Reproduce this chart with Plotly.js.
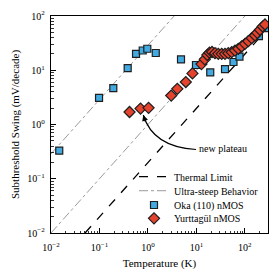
<!DOCTYPE html>
<html>
<head>
<meta charset="utf-8">
<script src="https://cdn.plot.ly/plotly-3.0.1.min.js"></script>
<style>html,body{margin:0;padding:0;background:#fff;}</style>
</head>
<body>
<div id="chart" style="width:278px;height:278px;"></div>
<script>
// Theoretical lines (endpoints)
var thermalT = [0.0504, 300];
var thermalS = [0.01, 59.5];
var steepT = [0.01, 3.47, null, 0.01, 100];
var steepS = [0.288, 100, null, 0.01, 100];

// Oka (110) nMOS
var okaT = [0.0148, 0.098, 0.193, 0.382, 0.568, 0.78, 0.97, 1.45, 4.81, 9.8, 19.3, 38.9, 58.2, 77.4, 195, 265];
var okaS = [0.33, 3.1, 4.67, 10.9, 20.1, 23.1, 24.9, 20.8, 15.8, 12.5, 9.1, 10.5, 14.2, 17.9, 42.4, 60];

// Yurttagül nMOS
var yurT = [0.417, 0.703, 1.03, 3.02, 4.04, 6.04, 8.30, 12.7, 14.9, 16.8, 18.6, 21.0, 24.2, 28.3, 33.3, 38.9, 45.5, 53.5, 62.5, 73.1, 85.9, 100.6, 117.7, 138.3, 161.8, 180.4, 205, 233, 260];
var yurS = [1.70, 1.97, 2.03, 3.42, 4.55, 6.07, 8.75, 13.0, 15.9, 19.1, 21.1, 21.7, 20.6, 20.1, 20.1, 20.1, 20.6, 21.5, 23.1, 24.9, 27.4, 30.7, 34.3, 39.0, 43.7, 49.0, 55.7, 64.0, 69.7];

var xTickVals = [0.01, 0.1, 1, 10, 100];
var xTickText = ['10<sup>−2</sup>', '10<sup>−1</sup>', '10<sup>0</sup>', '10<sup>1</sup>', '10<sup>2</sup>'];
var yTickVals = [0.01, 0.1, 1, 10, 100];
var yTickText = ['10<sup>−2</sup>', '10<sup>−1</sup>', '10<sup>0</sup>', '10<sup>1</sup>', '10<sup>2</sup>'];

var FONT = 'Liberation Serif, Times New Roman, serif';

var traces = [
  {x: thermalT, y: thermalS, mode: 'lines', name: 'Thermal Limit', legend: 'legend',
   line: {color: '#000', width: 1.3, dash: 'dash'}},
  {x: steepT, y: steepS, mode: 'lines', name: 'Ultra-steep Behavior', legend: 'legend2', connectgaps: false,
   line: {color: '#9a9a9a', width: 1, dash: 'dashdot'}},
  {x: okaT, y: okaS, mode: 'markers', name: 'Oka (110) nMOS', legend: 'legend3',
   marker: {symbol: 'square', size: 7, color: '#42aae0', line: {color: '#1e1e1e', width: 1.2}}},
  {x: yurT, y: yurS, mode: 'markers', name: 'Yurttagül nMOS', legend: 'legend4',
   marker: {symbol: 'diamond', size: 8.5, color: '#e5432e', line: {color: '#1e1e1e', width: 1.2}}}
];

function leg(y) {
  return {x: 0.3825, xanchor: 'left', y: y, yanchor: 'middle', bgcolor: 'rgba(0,0,0,0)',
          borderwidth: 0, font: {family: FONT, size: 10, color: '#000'}};
}

var axisCommon = {
  type: 'log', showgrid: false, zeroline: false,
  showline: true, linecolor: '#000', linewidth: 1.3, mirror: true,
  ticks: 'inside', ticklen: 5, tickwidth: 1, tickcolor: '#000',
  tickmode: 'array', tickfont: {family: FONT, size: 10, color: '#000'},
  minor: {ticks: 'inside', ticklen: 2.5, tickwidth: 0.8, tickcolor: '#000', dtick: 'D1', showgrid: false}
};

var layout = {
  width: 278, height: 278,
  margin: {l: 51, r: 10, t: 16, b: 45},
  paper_bgcolor: '#fff', plot_bgcolor: '#fff',
  font: {family: FONT, color: '#000'},
  showlegend: true,
  legend: leg(0.2594), legend2: leg(0.1949), legend3: leg(0.129), legend4: leg(0.0677),
  xaxis: Object.assign({}, axisCommon, {
    range: [-2, Math.log10(300)], tickvals: xTickVals, ticktext: xTickText, ticklabelstandoff: 5,
    title: {text: 'Temperature (K)', font: {family: FONT, size: 11, color: '#000'}, standoff: 7}
  }),
  yaxis: Object.assign({}, axisCommon, {
    range: [-2, 2], tickvals: yTickVals, ticktext: yTickText, ticklabelstandoff: 3,
    title: {text: 'Subthreshold Swing (mV/decade)', font: {family: FONT, size: 11, color: '#000'}, standoff: 5}
  }),
  shapes: [
    {type: 'path', xref: 'paper', yref: 'paper',
     path: 'M 0.4253 0.5438 Q 0.470 0.3963 0.6682 0.3848',
     line: {color: '#000', width: 1.2}}
  ],
  annotations: [
    {xref: 'paper', yref: 'paper', x: 0.6728, y: 0.3871, xanchor: 'left', yanchor: 'middle',
     text: 'new plateau', showarrow: false, font: {family: FONT, size: 10, color: '#000'}},
    {xref: 'paper', yref: 'paper', x: 0.4253, y: 0.5438, text: '', showarrow: true,
     ax: 2.5, ay: 8, arrowhead: 2, arrowsize: 1, arrowwidth: 1.2, arrowcolor: '#000', standoff: 0}
  ]
};

Plotly.newPlot('chart', traces, layout, {staticPlot: true, displayModeBar: false});
</script>
</body>
</html>
